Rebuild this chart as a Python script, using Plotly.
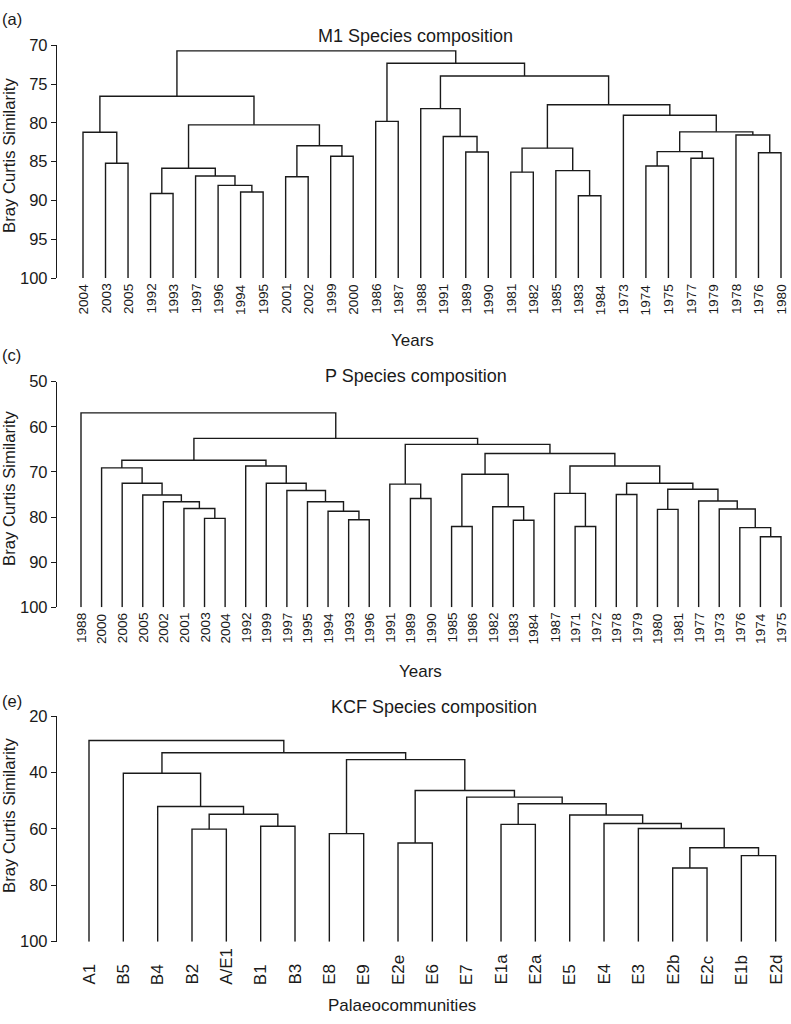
import plotly.graph_objects as go

# ---------------- data ----------------
# Panel (a) M1: leaf order and merges (child, child, similarity); ints refer to earlier merges
m1_leaves = ["2004", "2003", "2005", "1992", "1993", "1997", "1996", "1994", "1995",
             "2001", "2002", "1999", "2000", "1986", "1987", "1988", "1991", "1989",
             "1990", "1981", "1982", "1985", "1983", "1984", "1973", "1974", "1975",
             "1977", "1979", "1978", "1976", "1980"]
m1_merges = [
    ("2003", "2005", 85.2), ("2004", 0, 81.2), ("1992", "1993", 89.1),
    ("1994", "1995", 88.9), ("1996", 3, 88.05), ("1997", 4, 86.85), (2, 5, 85.85),
    ("2001", "2002", 86.95), ("1999", "2000", 84.3), (7, 8, 82.95), (6, 9, 80.25),
    (1, 10, 76.55), ("1986", "1987", 79.8), ("1989", "1990", 83.75), ("1991", 13, 81.75),
    ("1988", 14, 78.15), ("1981", "1982", 86.35), ("1983", "1984", 89.4), ("1985", 17, 86.15),
    (16, 18, 83.25), ("1974", "1975", 85.55), ("1977", "1979", 84.55), (20, 21, 83.7),
    ("1976", "1980", 83.85), ("1978", 23, 81.55), (22, 24, 81.15), ("1973", 25, 79.0),
    (19, 26, 77.65), (15, 27, 73.95), (12, 28, 72.3), (11, 29, 70.7),
]
m1_ticks = [70, 75, 80, 85, 90, 95, 100]

# Panel (c) P
p_leaves = ["1988", "2000", "2006", "2005", "2002", "2001", "2003", "2004", "1992", "1999",
            "1997", "1995", "1994", "1993", "1996", "1991", "1989", "1990", "1985", "1986",
            "1982", "1983", "1984", "1987", "1971", "1972", "1978", "1979", "1980", "1981",
            "1977", "1973", "1976", "1974", "1975"]
p_merges = [
    ("2003", "2004", 80.3), ("2001", 0, 78.1), ("2002", 1, 76.6), ("2005", 2, 75.1),
    ("2006", 3, 72.5), ("2000", 4, 69.1), ("1993", "1996", 80.6), ("1994", 6, 78.7),
    ("1995", 7, 76.6), ("1997", 8, 74.1), ("1999", 9, 72.5), ("1992", 10, 68.7),
    (5, 11, 67.4), ("1989", "1990", 75.9), ("1991", 13, 72.7), ("1985", "1986", 82.1),
    ("1983", "1984", 80.7), ("1982", 16, 77.7), (15, 17, 70.5), ("1971", "1972", 82.1),
    ("1987", 19, 74.75), ("1978", "1979", 75.0), ("1980", "1981", 78.3),
    ("1974", "1975", 84.35), ("1976", 23, 82.35), ("1973", 24, 78.2), ("1977", 25, 76.45),
    (22, 26, 73.85), (21, 27, 72.5), (20, 28, 68.7), (18, 29, 65.9), (14, 30, 63.9),
    (12, 31, 62.55), ("1988", 32, 56.9),
]
p_ticks = [50, 60, 70, 80, 90, 100]

# Panel (e) KCF
kcf_leaves = ["A1", "B5", "B4", "B2", "A/E1", "B1", "B3", "E8", "E9", "E2e", "E6", "E7",
              "E1a", "E2a", "E5", "E4", "E3", "E2b", "E2c", "E1b", "E2d"]
kcf_merges = [
    ("B2", "A/E1", 60.1), ("B1", "B3", 59.1), (0, 1, 54.8), ("B4", 2, 52.1), ("B5", 3, 40.3),
    ("E8", "E9", 61.7), ("E2e", "E6", 65.0), ("E1a", "E2a", 58.4), ("E2b", "E2c", 73.9),
    ("E1b", "E2d", 69.5), (8, 9, 66.7), ("E3", 10, 59.85), ("E4", 11, 58.1), ("E5", 12, 55.1),
    (7, 13, 51.1), ("E7", 14, 48.75), (6, 15, 46.4), (5, 16, 35.45), (4, 17, 33.0),
    ("A1", 18, 28.7),
]
kcf_ticks = [20, 40, 60, 80, 100]

# ---------------- helpers ----------------
W, H = 791, 1024
FONT = "Liberation Sans, Arial, sans-serif"
INK = "#1a1a1a"


def px_x(p):
    return p / W


def px_y(p):
    return 1 - p / H


def dendro(leaves, merges, base):
    pos = {lab: i for i, lab in enumerate(leaves)}
    nodes = []
    xs, ys = [], []

    def get(c):
        if isinstance(c, int):
            return nodes[c]
        return (pos[c], base)

    for a, b, h in merges:
        xa, ha = get(a)
        xb, hb = get(b)
        xs += [xa, xa, xb, xb, None]
        ys += [ha, h, h, hb, None]
        nodes.append(((xa + xb) / 2, h))
    return xs, ys


panels = [
    dict(leaves=m1_leaves, merges=m1_merges, ticks=m1_ticks,
         ydom=(278.0, 45.4), first=83.0, last=781.0,
         lab_font=13.6, lab_y=283.0, lab_anchor="top"),
    dict(leaves=p_leaves, merges=p_merges, ticks=p_ticks,
         ydom=(607.3, 381.7), first=81.0, last=781.0,
         lab_font=13.6, lab_y=612.0, lab_anchor="top"),
    dict(leaves=kcf_leaves, merges=kcf_merges, ticks=kcf_ticks,
         ydom=(941.7, 716.0), first=89.0, last=775.7,
         lab_font=17, lab_y=986.0, lab_anchor="bottom"),
]

fig = go.Figure()
annotations = []
AX_LEFT, AX_RIGHT = 57.0, 790.0

for i, pnl in enumerate(panels):
    n = len(pnl["leaves"])
    sfx = "" if i == 0 else str(i + 1)
    xs, ys = dendro(pnl["leaves"], pnl["merges"], max(pnl["ticks"]))
    fig.add_trace(go.Scatter(x=xs, y=ys, mode="lines", xaxis="x" + sfx, yaxis="y" + sfx,
                             line=dict(color=INK, width=1.4), hoverinfo="skip",
                             showlegend=False))
    step = (pnl["last"] - pnl["first"]) / (n - 1)
    x0 = -(pnl["first"] - AX_LEFT) / step
    x1 = (n - 1) + (AX_RIGHT - pnl["last"]) / step
    fig.layout["xaxis" + sfx] = dict(domain=[px_x(AX_LEFT), px_x(AX_RIGHT)], range=[x0, x1],
                                     visible=False, anchor="y" + sfx)
    fig.layout["yaxis" + sfx] = dict(
        domain=[px_y(pnl["ydom"][0]), px_y(pnl["ydom"][1])],
        range=[max(pnl["ticks"]), min(pnl["ticks"])], anchor="x" + sfx,
        tickmode="array", tickvals=pnl["ticks"], ticks="outside", ticklen=5, tickwidth=1.4,
        tickcolor=INK, showline=True, linecolor=INK, linewidth=1.4, showgrid=False,
        zeroline=False, automargin=False,
        tickfont=dict(family=FONT, size=16.5, color=INK))
    for j, lab in enumerate(pnl["leaves"]):
        annotations.append(dict(text=lab, x=j, xref="x" + sfx, y=px_y(pnl["lab_y"]),
                                yref="paper", textangle=-90, showarrow=False,
                                xanchor="center", yanchor=pnl["lab_anchor"],
                                font=dict(family=FONT, size=pnl["lab_font"], color=INK),
                                borderpad=0))


def txt(s, x, y, size, angle=0, xanchor="center"):
    annotations.append(dict(text=s, x=px_x(x), y=px_y(y), xref="paper", yref="paper",
                            showarrow=False, xanchor=xanchor, yanchor="middle",
                            textangle=angle, borderpad=0,
                            font=dict(family=FONT, size=size, color=INK)))


txt("(a)", 1, 19, 16.5, xanchor="left")
txt("M1 Species composition", 416, 36, 18)
txt("Years", 412, 340, 17)
txt("Bray Curtis Similarity", 9, 156, 16.7, angle=-90)

txt("(c)", 1, 355, 16.5, xanchor="left")
txt("P Species composition", 416, 376, 18)
txt("Years", 420, 671, 17)
txt("Bray Curtis Similarity", 9, 489, 16.7, angle=-90)

txt("(e)", 1, 701, 16.5, xanchor="left")
txt("KCF Species composition", 434, 707, 18)
txt("Palaeocommunities", 402, 1005, 17)
txt("Bray Curtis Similarity", 9, 816, 16.7, angle=-90)

fig.update_layout(width=W, height=H, margin=dict(l=0, r=0, t=0, b=0, pad=0, autoexpand=False),
                  paper_bgcolor="white", plot_bgcolor="white", showlegend=False,
                  annotations=annotations, font=dict(family=FONT, color=INK))

fig.write_html("out.html", config={"responsive": False, "displayModeBar": False},
               post_script="document.body.style.margin='0px';"
                           "document.body.style.overflow='hidden';")
